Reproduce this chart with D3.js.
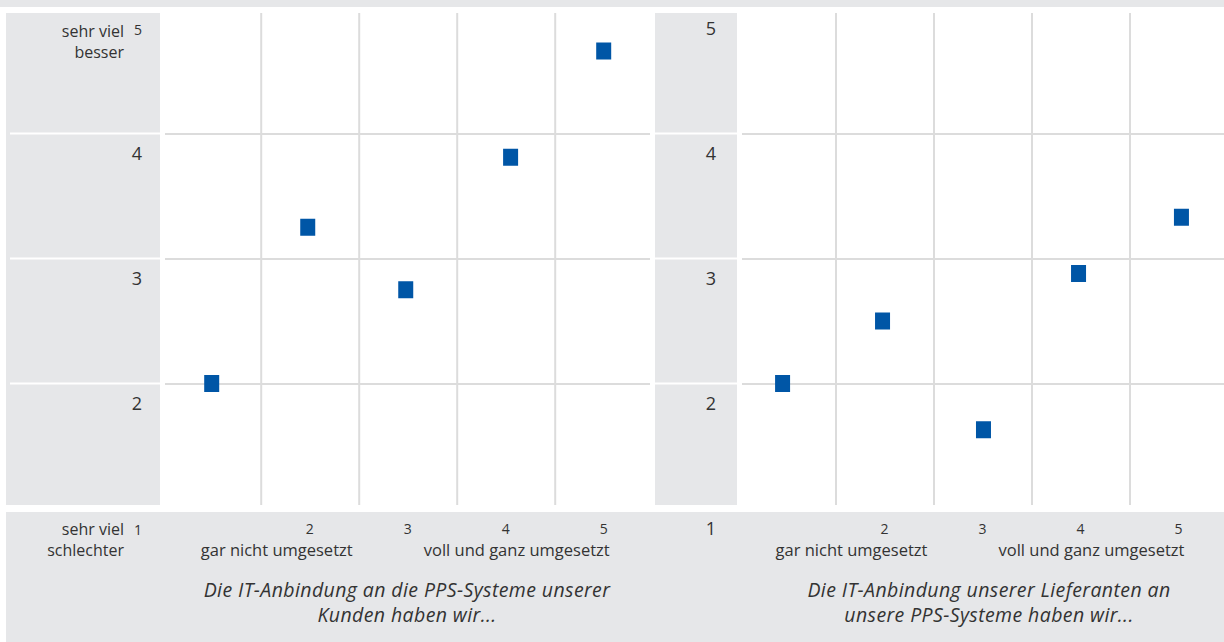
<!DOCTYPE html>
<html lang="de">
<head>
<meta charset="utf-8">
<title>IT-Anbindung PPS-Systeme</title>
<script src="https://cdn.jsdelivr.net/npm/d3@7"></script>
<style>
  body { margin: 0; background: #fff; }
  svg { display: block; font-family: "Open Sans", sans-serif; }
</style>
</head>
<body>
<div id="wrapper"></div>
<script>
// DATA
const yTicks = [1, 2, 3, 4, 5]
const xTicks = [2, 3, 4, 5]
const kundenX = [1.0, 1.98, 2.98, 4.05, 5.0]
const kundenY = [2.0, 3.25, 2.75, 3.81, 4.66]
const lieferantenX = [0.96, 1.98, 3.01, 3.98, 5.03]
const lieferantenY = [2.0, 2.5, 1.63, 2.88, 3.33]
const topLabel = ["sehr viel", "besser"]
const bottomLabel = ["sehr viel", "schlechter"]
const xLowLabel = "gar nicht umgesetzt"
const xHighLabel = "voll und ganz umgesetzt"
const kundenTitle = ["Die IT-Anbindung an die PPS-Systeme unserer", "Kunden haben wir..."]
const lieferantenTitle = ["Die IT-Anbindung unserer Lieferanten an", "unsere PPS-Systeme haben wir..."]

// COLOURS
const grey = "#e6e7e9"
const gridColor = "#dcdcdc"
const markColor = "#0056a6"
const textColor = "#333333"

// DIMENSIONS
const dimensions = { width: 1224, height: 642, plotTop: 13, plotBottom: 505 }

const svg = d3.select("#wrapper").append("svg")
  .attr("width", dimensions.width)
  .attr("height", dimensions.height)

// BACKGROUND BANDS
svg.append("rect")
  .attr("x", 0).attr("y", 0)
  .attr("width", dimensions.width).attr("height", 7)
  .attr("fill", grey)

svg.append("rect")
  .attr("x", 6).attr("y", 512)
  .attr("width", dimensions.width - 6).attr("height", dimensions.height - 512)
  .attr("fill", grey)

// SHARED Y SCALE
const yScale = d3.scaleLinear()
  .domain([1, 5])
  .range([508.5, 8.5])

function drawPanel(p) {
  const g = svg.append("g")

  const xScale = d3.scaleLinear()
    .domain([0.5, 5.5])
    .range(p.xRange)

  // grey label column, split at the grid lines
  g.append("rect")
    .attr("x", p.colX).attr("y", dimensions.plotTop)
    .attr("width", p.colW).attr("height", dimensions.plotBottom - dimensions.plotTop)
    .attr("fill", grey)

  g.selectAll(".divider")
    .data([2, 3, 4])
    .join("rect")
    .attr("class", "divider")
    .attr("x", p.colX + p.divInset)
    .attr("y", d => yScale(d) - 1)
    .attr("width", p.colW - p.divInset)
    .attr("height", 2)
    .attr("fill", "#fff")

  // vertical grid
  const xGrid = g.append("g")
    .attr("transform", `translate(0,${dimensions.plotBottom})`)
    .call(d3.axisBottom(xScale)
      .tickValues([1.5, 2.5, 3.5, 4.5])
      .tickSize(-(dimensions.plotBottom - dimensions.plotTop))
      .tickFormat(""))
  xGrid.select(".domain").remove()
  xGrid.selectAll("line").attr("stroke", gridColor).attr("stroke-width", 2)

  // horizontal grid
  const yGrid = g.append("g")
    .attr("transform", `translate(${p.hGrid[0]},0)`)
    .call(d3.axisLeft(yScale)
      .tickValues([2, 3, 4])
      .tickSize(-(p.hGrid[1] - p.hGrid[0]))
      .tickFormat(""))
  yGrid.select(".domain").remove()
  yGrid.selectAll("line").attr("stroke", gridColor).attr("stroke-width", 2)

  // y labels
  g.selectAll(".ylab")
    .data(yTicks)
    .join("text")
    .attr("class", "ylab")
    .attr("x", p.labelRight)
    .attr("y", d => yScale(d) + 26)
    .attr("text-anchor", "end")
    .attr("fill", textColor)
    .style("font-size", d => (p.smallEnds && (d === 1 || d === 5)) ? "14px" : "18px")
    .text(d => d)

  // x labels
  g.selectAll(".xlab")
    .data(xTicks)
    .join("text")
    .attr("class", "xlab")
    .attr("x", d => xScale(d))
    .attr("y", 534)
    .attr("text-anchor", "middle")
    .attr("fill", textColor)
    .style("font-size", "14px")
    .text(d => d)

  g.append("text")
    .attr("x", xScale(2) - 33).attr("y", 556)
    .attr("text-anchor", "middle")
    .attr("fill", textColor)
    .style("font-size", "16.5px")
    .text(xLowLabel)

  g.append("text")
    .attr("x", xScale(4) + 11).attr("y", 556)
    .attr("text-anchor", "middle")
    .attr("fill", textColor)
    .style("font-size", "16.5px")
    .text(xHighLabel)

  // title
  g.append("text")
    .attr("x", p.titleX).attr("y", 597)
    .attr("text-anchor", "middle")
    .attr("fill", textColor)
    .style("font-size", "19.5px")
    .style("letter-spacing", "0.4px")
    .style("font-style", "italic")
    .selectAll("tspan")
    .data(p.title)
    .join("tspan")
    .attr("x", p.titleX)
    .attr("dy", (d, i) => i === 0 ? 0 : 25)
    .text(d => d)

  // points
  const points = d3.zip(p.xs, p.ys)
  g.selectAll(".pt")
    .data(points)
    .join("rect")
    .attr("class", "pt")
    .attr("x", d => xScale(d[0]) - 7.5)
    .attr("y", d => yScale(d[1]) - 8.5)
    .attr("width", 15)
    .attr("height", 17)
    .attr("fill", markColor)
}

drawPanel({
  xs: kundenX, ys: kundenY, title: kundenTitle,
  xRange: [162.7, 652.7], colX: 6, colW: 154, divInset: 4,
  hGrid: [165, 650], labelRight: 142, smallEnds: true, titleX: 407
})

drawPanel({
  xs: lieferantenX, ys: lieferantenY, title: lieferantenTitle,
  xRange: [737.5, 1227.5], colX: 655, colW: 82, divInset: 0,
  hGrid: [742, 1224], labelRight: 716, smallEnds: false, titleX: 989
})

// SCALE END LABELS (left panel only)
const endLabels = svg.append("g")
  .attr("fill", textColor)
  .style("font-size", "16px")
  .attr("text-anchor", "end")

endLabels.selectAll(".top")
  .data(topLabel)
  .join("text")
  .attr("class", "top")
  .attr("x", 124)
  .attr("y", (d, i) => 37 + i * 21)
  .text(d => d)

endLabels.selectAll(".bottom")
  .data(bottomLabel)
  .join("text")
  .attr("class", "bottom")
  .attr("x", 124)
  .attr("y", (d, i) => 535 + i * 21)
  .text(d => d)
</script>
</body>
</html>
